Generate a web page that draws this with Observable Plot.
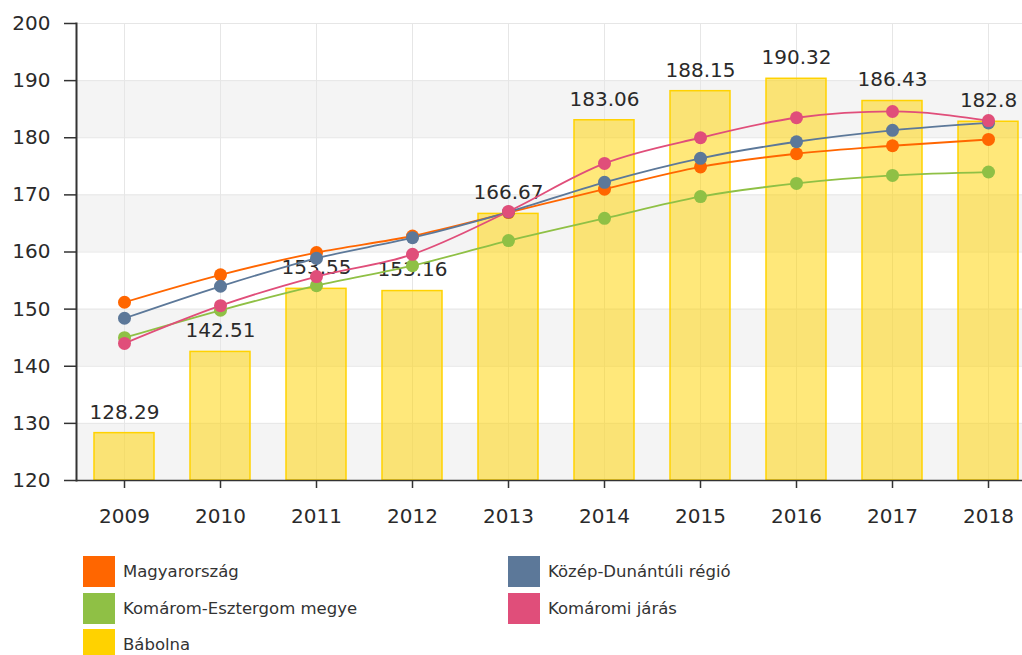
<!DOCTYPE html>
<html>
<head>
<meta charset="utf-8">
<script src="https://cdn.jsdelivr.net/npm/d3@7"></script>
<script src="https://cdn.jsdelivr.net/npm/@observablehq/plot@0.6"></script>
<style>
  html, body { margin: 0; padding: 0; background: #fff; }
  body { width: 1022px; height: 655px; overflow: hidden; font-family: "DejaVu Sans", Verdana, sans-serif; }
  #legend {
    display: grid;
    grid-template-columns: 425px 425px;
    padding-left: 83px;
    margin-top: 8px;
    row-gap: 5.5px;
  }
  .item { display: flex; align-items: center; height: 31px; font-size: 16.5px; color: #333; }
  .sw { width: 32px; height: 31px; margin-right: 8px; flex: none; }
</style>
</head>
<body>
<div id="chart"></div>
<div id="legend"></div>
<script>
const years = ["2009","2010","2011","2012","2013","2014","2015","2016","2017","2018"];
const babolna = [128.29, 142.51, 153.55, 153.16, 166.67, 183.06, 188.15, 190.32, 186.43, 182.8];
const babolnaLabels = ["128.29","142.51","153.55","153.16","166.67","183.06","188.15","190.32","186.43","182.8"];
const magyarorszag = [151.2, 156.0, 159.9, 162.8, 166.9, 171.0, 174.9, 177.2, 178.6, 179.7];
const kozepDunantuli = [148.4, 154.0, 158.9, 162.5, 167.0, 172.2, 176.4, 179.3, 181.3, 182.6];
const komaromEsztergom = [145.0, 149.8, 154.1, 157.6, 162.0, 165.9, 169.7, 172.0, 173.4, 174.0];
const komaromiJaras = [144.0, 150.6, 155.7, 159.6, 167.1, 175.5, 180.0, 183.5, 184.6, 183.0];
const yTicks = [120, 130, 140, 150, 160, 170, 180, 190, 200];
const shadedFrom = [120, 140, 160, 180];

const seriesNames = ["Magyarország", "Közép-Dunántúli régió", "Komárom-Esztergom megye", "Komáromi járás"];
const seriesValues = [magyarorszag, kozepDunantuli, komaromEsztergom, komaromiJaras];
const seriesColors = ["#FF6600", "#5C7899", "#8FC045", "#E04E7A"];
const barColor = "#FFD200";

const bars = years.map((y, i) => ({year: y, value: babolna[i], label: babolnaLabels[i]}));
const points = seriesNames.flatMap((name, s) =>
  years.map((y, i) => ({series: name, year: y, value: seriesValues[s][i]})));

const font = "DejaVu Sans, Verdana, sans-serif";

const chart = Plot.plot({
  width: 1022,
  height: 548,
  marginLeft: 76,
  marginRight: 0,
  marginTop: 23,
  marginBottom: 68,
  style: {fontFamily: font, color: "#333", background: "#fff", overflow: "visible"},
  x: {type: "band", domain: years, range: [76, 1036], paddingInner: 0.38, paddingOuter: 0.19, label: null},
  y: {domain: [120, 200], label: null},
  color: {domain: seriesNames, range: seriesColors},
  marks: [
    Plot.rect(shadedFrom, {y1: d => d, y2: d => d + 10, fill: "#f4f4f4"}),
    Plot.ruleY(yTicks, {stroke: "#e6e6e6", strokeWidth: 1}),
    Plot.ruleX(years, {stroke: "#e6e6e6", strokeWidth: 1}),
    Plot.barY(bars, {x: "year", y1: 120, y2: "value", fill: barColor, fillOpacity: 0.52, stroke: barColor, strokeWidth: 1.5}),
    Plot.text(bars, {x: "year", y: "value", text: "label", dy: -21, fontSize: 20, fill: "#2a2a2a", lineAnchor: "middle"}),
    Plot.lineY(points, {x: "year", y: "value", z: "series", stroke: "series", strokeWidth: 1.8, curve: "monotone-x"}),
    Plot.dot(points, {x: "year", y: "value", fill: "series", r: 6.5}),
    Plot.ruleY([120], {stroke: "#333", strokeWidth: 1.5}),
    Plot.axisY({ticks: yTicks, tickSize: 12, tickPadding: 14, fontSize: 20, stroke: "#333", strokeWidth: 1.5, fill: "#2a2a2a"}),
    Plot.axisX({tickSize: 8, tickPadding: 20, fontSize: 20, stroke: "#333", strokeWidth: 1.5, fill: "#2a2a2a"}),
    Plot.frame({anchor: "left", stroke: "#333", strokeWidth: 2})
  ]
});
document.getElementById("chart").appendChild(chart);

const legendItems = [
  ["Magyarország", seriesColors[0]],
  ["Közép-Dunántúli régió", seriesColors[1]],
  ["Komárom-Esztergom megye", seriesColors[2]],
  ["Komáromi járás", seriesColors[3]],
  ["Bábolna", barColor]
];
const legend = document.getElementById("legend");
for (const [name, color] of legendItems) {
  const it = document.createElement("div");
  it.className = "item";
  const sw = document.createElement("span");
  sw.className = "sw";
  sw.style.background = color;
  const t = document.createElement("span");
  t.textContent = name;
  it.appendChild(sw);
  it.appendChild(t);
  legend.appendChild(it);
}
</script>
</body>
</html>
